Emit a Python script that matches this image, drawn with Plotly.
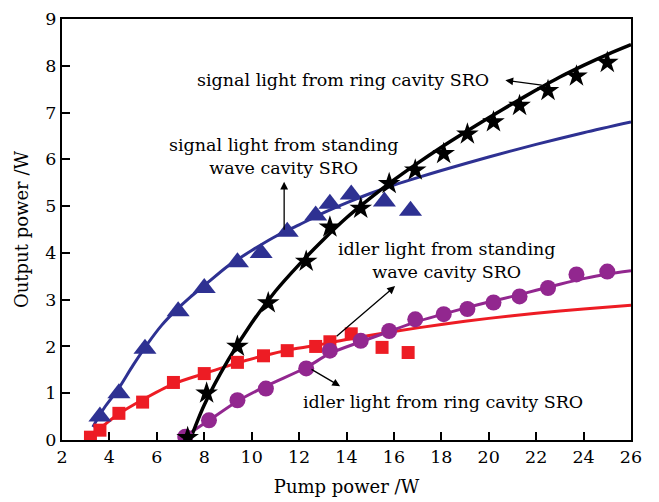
import plotly.graph_objects as go

# ---- data ----
# signal light, standing wave cavity SRO (blue triangles)
sig_sw_x = [3.6, 4.4, 5.5, 6.9, 8.0, 9.4, 10.4, 11.5, 12.7, 13.3, 14.2, 15.6, 16.7]
sig_sw_y = [0.5, 1.0, 1.95, 2.75, 3.25, 3.8, 4.0, 4.45, 4.8, 5.05, 5.25, 5.1, 4.9]
sig_sw_fit_x = [3.3, 3.8, 4.36, 5.0, 5.6, 6.2, 6.8, 7.4, 8.0, 9, 10, 11, 12, 13, 14, 15, 16, 17, 18, 20, 22, 24, 26]
sig_sw_fit_y = [0.28, 0.7, 1.08, 1.6, 2.05, 2.45, 2.77, 3.05, 3.3, 3.72, 4.05, 4.35, 4.6, 4.85, 5.07, 5.27, 5.45, 5.61, 5.76, 6.05, 6.32, 6.57, 6.8]

# signal light, ring cavity SRO (black stars)
sig_ring_x = [7.3, 8.1, 9.4, 10.7, 12.3, 13.3, 14.6, 15.8, 16.9, 18.1, 19.1, 20.2, 21.3, 22.5, 23.7, 25.0]
sig_ring_y = [0.05, 1.0, 2.0, 2.93, 3.82, 4.55, 4.95, 5.48, 5.77, 6.12, 6.54, 6.8, 7.15, 7.47, 7.78, 8.07]
sig_ring_fit_x = [7.4, 8, 9, 10, 11, 12, 13, 14, 15, 16, 17, 18, 19, 20, 21, 22, 23, 24, 25, 26]
sig_ring_fit_y = [0.0, 0.75, 1.7, 2.5, 3.18, 3.75, 4.27, 4.75, 5.17, 5.56, 5.92, 6.26, 6.58, 6.89, 7.19, 7.48, 7.76, 8.01, 8.24, 8.45]

# idler light, standing wave cavity SRO (red squares)
idl_sw_x = [3.2, 3.6, 4.4, 5.4, 6.7, 8.0, 9.4, 10.5, 11.5, 12.7, 13.3, 14.2, 15.5, 16.6]
idl_sw_y = [0.06, 0.21, 0.57, 0.81, 1.23, 1.42, 1.66, 1.8, 1.91, 2.0, 2.1, 2.27, 1.98, 1.87]
idl_sw_fit_x = [3.05, 3.6, 4.4, 5.4, 6.7, 8.0, 9.4, 10.5, 11.5, 12.7, 14, 16, 18, 20, 22, 24, 26]
idl_sw_fit_y = [0.05, 0.25, 0.56, 0.86, 1.2, 1.42, 1.65, 1.8, 1.92, 2.02, 2.15, 2.32, 2.47, 2.6, 2.71, 2.8, 2.88]

# idler light, ring cavity SRO (purple circles)
idl_ring_x = [7.2, 8.2, 9.4, 10.6, 12.3, 13.3, 14.6, 15.8, 16.9, 18.1, 19.1, 20.2, 21.3, 22.5, 23.7, 25.0]
idl_ring_y = [0.07, 0.42, 0.85, 1.1, 1.53, 1.91, 2.12, 2.33, 2.58, 2.69, 2.8, 2.94, 3.07, 3.25, 3.54, 3.6]
idl_ring_fit_x = [7.1, 8.2, 9.4, 10.6, 12.3, 13.3, 14.6, 15.8, 16.9, 18, 19, 20, 21, 22, 23, 24, 25, 26]
idl_ring_fit_y = [0.05, 0.42, 0.83, 1.15, 1.55, 1.85, 2.1, 2.32, 2.52, 2.68, 2.82, 2.95, 3.07, 3.2, 3.33, 3.45, 3.55, 3.62]

x_ticks = [2, 4, 6, 8, 10, 12, 14, 16, 18, 20, 22, 24, 26]
y_ticks = [0, 1, 2, 3, 4, 5, 6, 7, 8, 9]

BLUE = "#2E3192"
BLACK = "#000000"
RED = "#ED1C24"
PURPLE = "#92278F"
FONT = "DejaVu Serif"

fig = go.Figure()

def fit(x, y, c, w):
    fig.add_trace(go.Scatter(x=x, y=y, mode="lines", line=dict(color=c, width=w, shape="spline", smoothing=0.8),
                             showlegend=False, hoverinfo="skip"))

def pts(x, y, c, sym, size):
    fig.add_trace(go.Scatter(x=x, y=y, mode="markers",
                             marker=dict(color=c, symbol=sym, size=size, line=dict(width=0)),
                             showlegend=False))

fit(sig_sw_fit_x, sig_sw_fit_y, BLUE, 3)
fit(idl_sw_fit_x, idl_sw_fit_y, RED, 3)
fit(idl_ring_fit_x, idl_ring_fit_y, PURPLE, 3)
fit(sig_ring_fit_x, sig_ring_fit_y, BLACK, 3.5)
pts(sig_sw_x, sig_sw_y, BLUE, "triangle-up", 20)
pts(idl_sw_x, idl_sw_y, RED, "square", 13)
pts(idl_ring_x, idl_ring_y, PURPLE, "circle", 16)
pts(sig_ring_x, sig_ring_y, BLACK, "star", 17)

tfont = dict(family=FONT, size=17.5, color="black")

def label(x, y, text):
    fig.add_annotation(x=x, y=y, xref="x", yref="y", text=text, showarrow=False,
                       font=tfont, align="center")

def arrow(x0, y0, x1, y1):
    fig.add_annotation(x=x1, y=y1, ax=x0, ay=y0, xref="x", yref="y", axref="x", ayref="y",
                       text="", showarrow=True, arrowhead=2, arrowsize=1.2, arrowwidth=1.3,
                       arrowcolor="black")

label(13.86, 7.69, "signal light from ring cavity SRO")
arrow(22.3, 7.58, 20.7, 7.69)
label(11.33, 6.07, "signal light from standing<br>wave cavity SRO")
arrow(11.37, 4.46, 11.37, 5.52)
label(18.2, 3.84, "idler light from standing<br>wave cavity SRO")
arrow(13.52, 2.19, 16.05, 3.29)
label(18.08, 0.81, "idler light from ring cavity SRO")
arrow(12.46, 1.53, 13.73, 1.15)

axis_common = dict(showline=True, linecolor="black", linewidth=2, mirror=True,
                   ticks="inside", ticklen=8, tickwidth=2, tickcolor="black",
                   showgrid=False, zeroline=False, automargin=False,
                   ticklabeloverflow="allow",
                   tickfont=dict(family=FONT, size=17.5, color="black"))

fig.update_xaxes(range=[2, 26], tickvals=x_ticks, ticktext=[str(v) for v in x_ticks],
                 title=dict(text="Pump power /W", font=dict(family=FONT, size=18, color="black"), standoff=14),
                 **axis_common)
fig.update_yaxes(range=[0, 9], tickvals=y_ticks, ticktext=[str(v) for v in y_ticks],
                 title=dict(text="Output power /W", font=dict(family=FONT, size=18, color="black"), standoff=12),
                 **axis_common)

# the page body adds an 8 px margin, so the figure is a little smaller than the window
fig.update_layout(width=651, height=494, margin=dict(l=54, r=28, t=11, b=62),
                  plot_bgcolor="white", paper_bgcolor="white", showlegend=False)

fig.write_html("out.html")
